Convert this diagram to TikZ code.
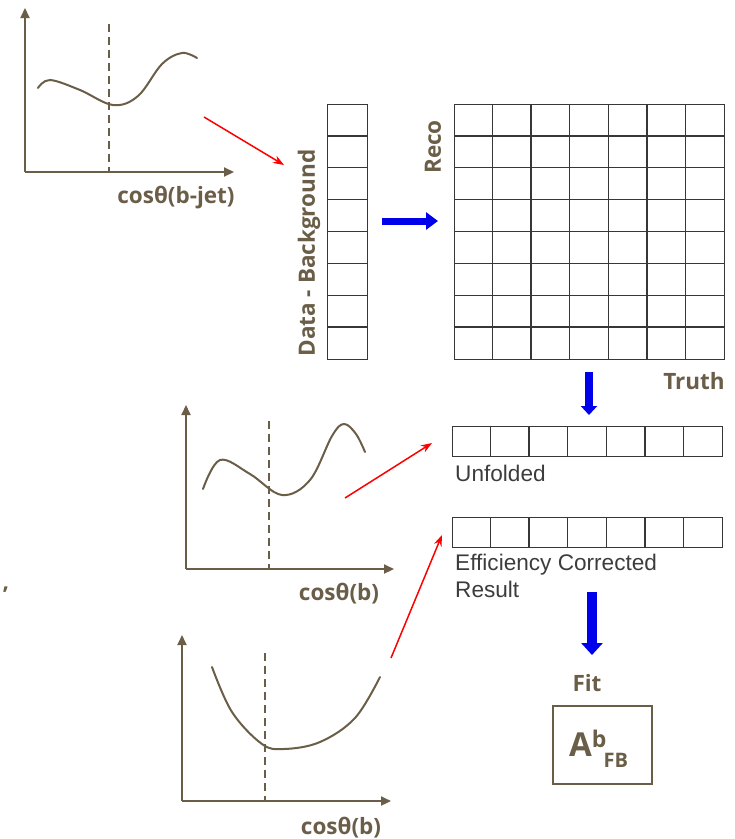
\documentclass[tikz,border=0pt]{standalone}
\usepackage{fontspec}
\setmainfont{Open Sans}
\newfontfamily\arialf{Liberation Sans}
\usetikzlibrary{arrows.meta}
\definecolor{brn}{RGB}{107,94,72}
\definecolor{gridc}{RGB}{55,55,55}
\definecolor{txtg}{RGB}{60,60,60}
\definecolor{arrblue}{RGB}{0,0,235}
\begin{document}
\begin{tikzpicture}[x=1pt,y=-1pt,
  axis/.style={brn, line width=2.2pt, -{Triangle[length=10pt,width=9pt]}},
  curve/.style={brn, line width=2pt, line cap=round},
  guide/.style={brn, line width=2pt, dash pattern=on 8pt off 5pt},
  lbl/.style={font=\fontsize{22.5}{26}\selectfont\bfseries, text=brn, inner sep=0pt},
  gtxt/.style={font=\arialf\fontsize{22.6}{27}\selectfont, text=txtg, inner sep=0pt},
  gridbox/.style={draw=gridc, line width=1.4pt, inner sep=0pt, anchor=north west},
  gridline/.style={gridc, line width=1.4pt},
  redarrow/.style={red, line width=1.5pt, -{Stealth[length=11pt,width=8pt]}},
]
\useasboundingbox (0,0) rectangle (735,839);

% ---------- plot 1 ----------
\coordinate (o1) at (25,172);
\coordinate (y1) at (25,8);
\coordinate (x1) at (234,172);
\draw[axis] (o1) -- (y1);
\draw[axis] (o1) -- (x1);
\draw[guide] (109,24) -- (109,172);
\draw[curve] plot[smooth, tension=0.6] coordinates {(38,88) (50,80) (80,90) (113,105) (138,96) (162,64) (182,53) (197,58)};
\node[lbl] (l1) at (176,198) {cosθ(b-jet)};

% ---------- plot 2 ----------
\coordinate (o2) at (186,569);
\coordinate (y2) at (186,405);
\coordinate (x2) at (394,569);
\draw[axis] (o2) -- (y2);
\draw[axis] (o2) -- (x2);
\draw[guide] (269,421) -- (269,569);
\draw[curve] plot[smooth, tension=0.6] coordinates {(203,489) (220,460) (250,474) (282,495) (310,480) (332,436) (344,424) (356,434) (365,452)};
\node[lbl] (l2) at (339,594) {cosθ(b)};

% ---------- plot 3 ----------
\coordinate (o3) at (182,801);
\coordinate (y3) at (182,635);
\coordinate (x3) at (391,801);
\draw[axis] (o3) -- (y3);
\draw[axis] (o3) -- (x3);
\draw[guide] (265,653) -- (265,801);
\draw[curve] plot[smooth, tension=0.6] coordinates {(212,667) (232,712) (262,744) (284,749) (320,742) (355,718) (380,677)};
\node[lbl] (l3) at (341,828) {cosθ(b)};

% ---------- data column ----------
\node[gridbox, minimum width=40pt, minimum height=255pt] (col) at (327,104) {};
\foreach \i in {1,...,7} \draw[gridline] (327,104+\i*31.875) -- (367,104+\i*31.875);
\node[lbl, rotate=90] (dbl) at (309,253) {Data - Background};

% ---------- matrix ----------
\node[gridbox, minimum width=270pt, minimum height=255pt] (mat) at (454,104) {};
\foreach \i in {1,...,7} \draw[gridline] (454,104+\i*31.875) -- (724,104+\i*31.875);
\foreach \j in {1,...,6} \draw[gridline] (454+\j*38.571,104) -- (454+\j*38.571,359);
\node[lbl, rotate=90] (reco) at (433,147) {Reco};
\node[lbl] (truth) at (694,381) {Truth};

% ---------- unfolded ----------
\node[gridbox, minimum width=270pt, minimum height=30pt] (unf) at (452,426) {};
\foreach \j in {1,...,6} \draw[gridline] (452+\j*38.571,426) -- (452+\j*38.571,456);
\node[gtxt, anchor=west] (unft) at (455,473) {Unfolded};

% ---------- efficiency corrected ----------
\node[gridbox, minimum width=270pt, minimum height=30pt] (eff) at (452,517) {};
\foreach \j in {1,...,6} \draw[gridline] (452+\j*38.571,517) -- (452+\j*38.571,547);
\node[gtxt, anchor=base west, align=left] (efft) at (455,597) {Efficiency Corrected\\Result};

% ---------- fit ----------
\node[lbl] (fit) at (587,683) {Fit};
\node[draw=brn, line width=1.8pt, inner sep=0pt, minimum width=99pt, minimum height=78pt, anchor=north west] (afb) at (552,705) {};
\node[anchor=base west, inner sep=0pt, text=brn, font=\bfseries] (afbt) at (569,756)
  {{\fontsize{33}{33}\selectfont A}\raisebox{9pt}{\fontsize{23}{23}\selectfont b}\hspace{-3pt}\raisebox{-11pt}{\fontsize{20}{20}\selectfont FB}};

% ---------- red arrows ----------
\coordinate (r1s) at (204,117);
\coordinate (r1e) at (284,165);
\draw[redarrow] (r1s) -- (r1e);
\coordinate (r2s) at (345,498);
\coordinate (r2e) at (432,443);
\draw[redarrow] (r2s) -- (r2e);
\coordinate (r3s) at (391,658);
\coordinate (r3e) at (442,535);
\draw[redarrow] (r3s) -- (r3e);

% ---------- blue arrows ----------
\coordinate (b1s) at (382,221);
\coordinate (b1e) at (438,221);
\draw[arrblue, line width=7pt, -{Triangle[length=12pt,width=17pt]}] (b1s) -- (b1e);
\coordinate (b2s) at (589,372);
\coordinate (b2e) at (589,415);
\draw[arrblue, line width=8pt, -{Triangle[length=9pt,width=16pt]}] (b2s) -- (b2e);
\coordinate (b3s) at (592,592);
\coordinate (b3e) at (592,655);
\draw[arrblue, line width=10pt, -{Triangle[length=12pt,width=21pt]}] (b3s) -- (b3e);

% ---------- stray comma at left edge ----------
\node[lbl] (cm) at (6,590) {,};
\end{tikzpicture}
\end{document}
